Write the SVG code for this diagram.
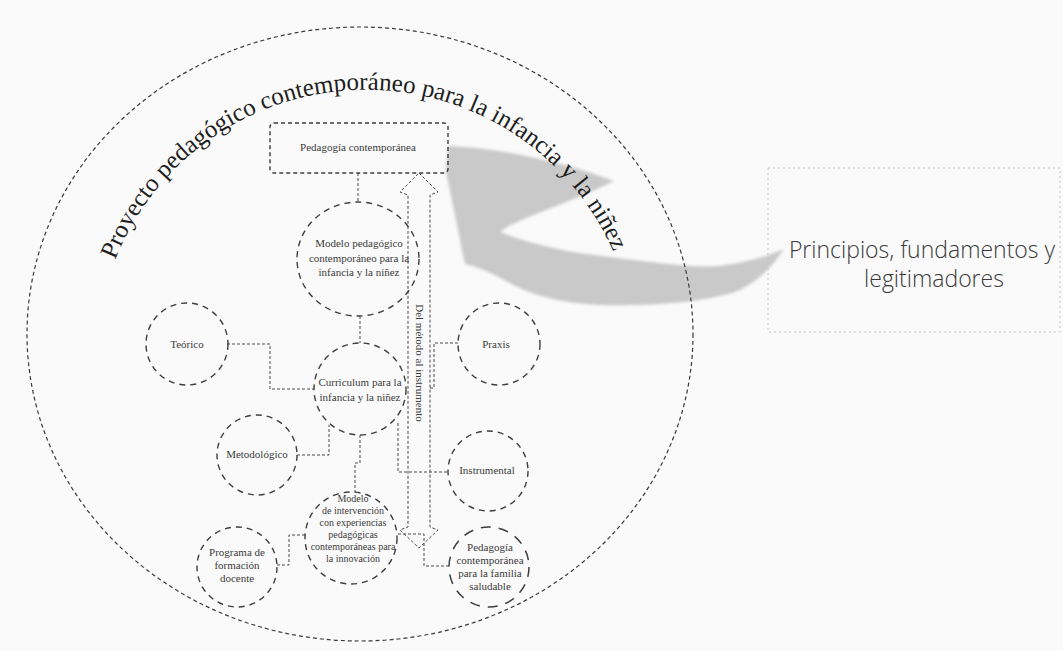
<svg xmlns="http://www.w3.org/2000/svg" width="1063" height="651" viewBox="0 0 1063 651">
  <style>
    .bg { fill: #fafafa; }
    .outer { fill: none; stroke: #3a3a3a; stroke-width: 1.2; stroke-dasharray: 4 3; }
    .node { fill: none; stroke: #3d3d3d; stroke-width: 1.4; stroke-dasharray: 6 5; }
    .node-long { fill: none; stroke: #3d3d3d; stroke-width: 1.5; stroke-dasharray: 10 8; }
    .box { fill: none; stroke: #3d3d3d; stroke-width: 1.4; stroke-dasharray: 4 3; }
    .link { fill: none; stroke: #4a4a4a; stroke-width: 1; stroke-dasharray: 3 2; }
    .label { font-family: "Liberation Serif", "DejaVu Serif", serif; font-size: 11px; fill: #3a3a3a; text-anchor: middle; }
    .small { font-size: 10px; }
    .title { font-family: "Liberation Serif", "DejaVu Serif", serif; font-size: 25px; fill: #1e1e1e; }
    .side { font-family: "Open Sans", "Liberation Sans", sans-serif; font-weight: 300; font-size: 23px; fill: #3a3a3a; text-anchor: middle; }
    .sidebox { fill: none; stroke: #c4c4c4; stroke-width: 1; stroke-dasharray: 2 3; }
  </style>
  <defs>
    <path id="titleArc" d="M115,260 A270,270 0 0 1 616,258"/>
    <filter id="soft" x="-5%" y="-5%" width="110%" height="110%">
      <feGaussianBlur stdDeviation="1.5"/>
    </filter>
  </defs>

  <rect class="bg" x="0" y="0" width="1063" height="651"/>

  <!-- wide grey curved arrow from the side box into the project circle -->
  <path id="bigArrow" fill="#c9c9c9" filter="url(#soft)" d="M448,146 C500,148 565,162 614,181 C592,192 566,202 546,210 C526,218 510,224 500,232 C530,244 565,252 610,257 C650,262 690,268 720,266 C750,262 770,255 784,249 C773,266 758,282 735,292 C700,303 650,306 600,305 C560,303 530,295 506,281 C490,272 476,266 465,264 C458,230 452,200 446,172 Z"/>

  <!-- outer project boundary -->
  <ellipse class="outer" cx="360" cy="334" rx="333" ry="307"/>

  <!-- curved title, one run per phrase along the same arc -->
  <g id="title">
    <text class="title"><textPath href="#titleArc">Proyecto pedagógico</textPath></text>
    <text class="title"><textPath href="#titleArc" startOffset="216.6">contemporáneo</textPath></text>
    <text class="title"><textPath href="#titleArc" startOffset="377">para la infancia</textPath></text>
    <text class="title"><textPath href="#titleArc" startOffset="537.4">y la niñez</textPath></text>
  </g>

  <!-- connectors -->
  <g id="connectors">
    <path class="link" d="M358,173 V201"/>
    <path class="link" d="M360,316 V343"/>
    <path class="link" d="M227,344 H270 V389 H314"/>
    <path class="link" d="M297,455 H329 V425"/>
    <path class="link" d="M360,435 V463 H355 V492"/>
    <path class="link" d="M277,565 H289 V535 H305"/>
    <path class="link" d="M398,423 V472 H448"/>
    <path class="link" d="M430,388 H434 V343 H458"/>
    <path class="link" d="M398,534 H424 V566 H450"/>
    <!-- two-way dashed arrow: Del método al instrumento -->
    <path id="methodArrow" class="link" stroke-width="1.3" stroke-dasharray="5 4" d="M419,173 L438,192 L430,195 L430,527 L438,530 L419,548 L400,530 L408,527 L408,195 L400,192 Z"/>
    <text class="label" transform="translate(419,363) rotate(90)" dy="3.5" font-size="10.5">Del método al instrumento</text>
  </g>

  <!-- nodes -->
  <g id="pedagogia-contemporanea">
    <rect class="box" x="270" y="123" width="178" height="50" rx="4"/>
    <text class="label" x="358" y="151">Pedagogía contemporánea</text>
  </g>

  <g id="modelo-pedagogico">
    <ellipse class="node" cx="358" cy="259" rx="61" ry="57"/>
    <text class="label" x="359" y="247">Modelo pedagógico</text>
    <text class="label" x="359" y="262">contemporáneo para la</text>
    <text class="label" x="359" y="276">infancia y la niñez</text>
  </g>

  <g id="curriculum">
    <circle class="node" cx="360" cy="389" r="46"/>
    <text class="label" x="360" y="386" font-size="11.5">Curriculum para la</text>
    <text class="label" x="360" y="401" font-size="11.5">infancia y la niñez</text>
  </g>

  <g id="teorico">
    <circle class="node" cx="187" cy="344" r="41"/>
    <text class="label" x="187" y="348">Teórico</text>
  </g>

  <g id="metodologico">
    <circle class="node" cx="257" cy="455" r="40"/>
    <text class="label" x="257" y="458">Metodológico</text>
  </g>

  <g id="modelo-intervencion">
    <circle class="node" cx="351" cy="538" r="46"/>
    <text class="label small" x="353" y="502">Modelo</text>
    <text class="label small" x="353" y="514">de intervención</text>
    <text class="label small" x="353" y="526">con experiencias</text>
    <text class="label small" x="353" y="538">pedagógicas</text>
    <text class="label small" x="353" y="550">contemporáneas para</text>
    <text class="label small" x="353" y="562">la innovación</text>
  </g>

  <g id="programa-formacion">
    <circle class="node" cx="237" cy="567" r="40"/>
    <text class="label" x="237" y="556">Programa de</text>
    <text class="label" x="237" y="569">formación</text>
    <text class="label" x="237" y="582">docente</text>
  </g>

  <g id="praxis">
    <circle class="node" cx="499" cy="344" r="41"/>
    <text class="label" x="496" y="348">Praxis</text>
  </g>

  <g id="instrumental">
    <circle class="node" cx="488" cy="471" r="40"/>
    <text class="label" x="487" y="474">Instrumental</text>
  </g>

  <g id="familia-saludable">
    <circle class="node-long" cx="489" cy="567" r="40"/>
    <text class="label" x="490" y="551" font-size="10.5">Pedagogía</text>
    <text class="label" x="490" y="564" font-size="10.5">contemporánea</text>
    <text class="label" x="490" y="577" font-size="10.5">para la familia</text>
    <text class="label" x="490" y="590" font-size="10.5">saludable</text>
  </g>

  <g id="principios">
    <rect class="sidebox" x="768" y="168" width="292" height="164"/>
    <text class="side" x="922" y="258">Principios, fundamentos y</text>
    <text class="side" x="934" y="287">legitimadores</text>
  </g>
</svg>
